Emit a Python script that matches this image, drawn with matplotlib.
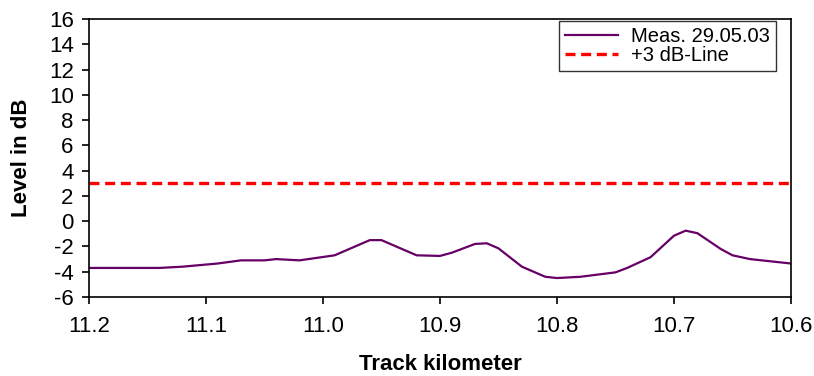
import numpy as np
import matplotlib
matplotlib.use("Agg")
import matplotlib.pyplot as plt

plt.rcParams['font.family'] = ['Liberation Sans', 'DejaVu Sans']
plt.rcParams['axes.unicode_minus'] = False

km = [11.20, 11.14, 11.12, 11.09, 11.07, 11.05, 11.04, 11.02, 10.99, 10.96,
      10.95, 10.92, 10.90, 10.89, 10.87, 10.86, 10.85, 10.83, 10.81, 10.80,
      10.78, 10.75, 10.74, 10.72, 10.70, 10.69, 10.68, 10.66, 10.65, 10.635,
      10.62, 10.60]
level = [-3.7, -3.7, -3.6, -3.35, -3.1, -3.1, -3.0, -3.1, -2.7, -1.5,
         -1.5, -2.7, -2.75, -2.5, -1.8, -1.75, -2.15, -3.6, -4.4, -4.5,
         -4.4, -4.05, -3.7, -2.85, -1.15, -0.75, -0.95, -2.2, -2.7, -3.0,
         -3.15, -3.35]
limit_km = [11.2, 10.6]
limit_db = [3, 3]

xticks = [11.2, 11.1, 11.0, 10.9, 10.8, 10.7, 10.6]
yticks = list(range(-6, 17, 2))

fig = plt.figure(figsize=(8.14, 3.76), dpi=100)
ax = fig.add_axes([0.1093, 0.2101, 0.8624, 0.7394])

ax.plot(km, level, color="#660066", lw=1.6, label="Meas. 29.05.03")
ax.plot(limit_km, limit_db, color="#ff0000", lw=2.4, linestyle=(0, (3, 1.7)),
        dash_capstyle="butt", label="+3 dB-Line")

ax.set_xlim(11.2, 10.6)
ax.set_ylim(-6, 16)
ax.set_xticks(xticks)
ax.set_xticklabels(["%.1f" % v for v in xticks])
ax.set_yticks(yticks)
ax.set_yticklabels([str(v) for v in yticks])
ax.tick_params(direction="out", length=5, width=1.2, labelsize=16, color="black")
ax.tick_params(axis="x", pad=9)
ax.tick_params(axis="y", pad=6)
for s in ax.spines.values():
    s.set_linewidth(1.2)

ax.set_xlabel("Track kilometer", fontsize=16, fontweight="bold", labelpad=12)
ax.set_ylabel("Level in dB", fontsize=16, fontweight="bold", labelpad=12)

leg = ax.legend(loc="upper right", fontsize=14.5, frameon=True, fancybox=False,
                borderpad=0.3, labelspacing=0.0, handlelength=2.65,
                handletextpad=0.65, bbox_to_anchor=(0.9786, 0.9928), borderaxespad=0)
leg.get_frame().set_edgecolor("black")
leg.get_frame().set_linewidth(1.0)

fig.savefig("out.png", dpi=100)
